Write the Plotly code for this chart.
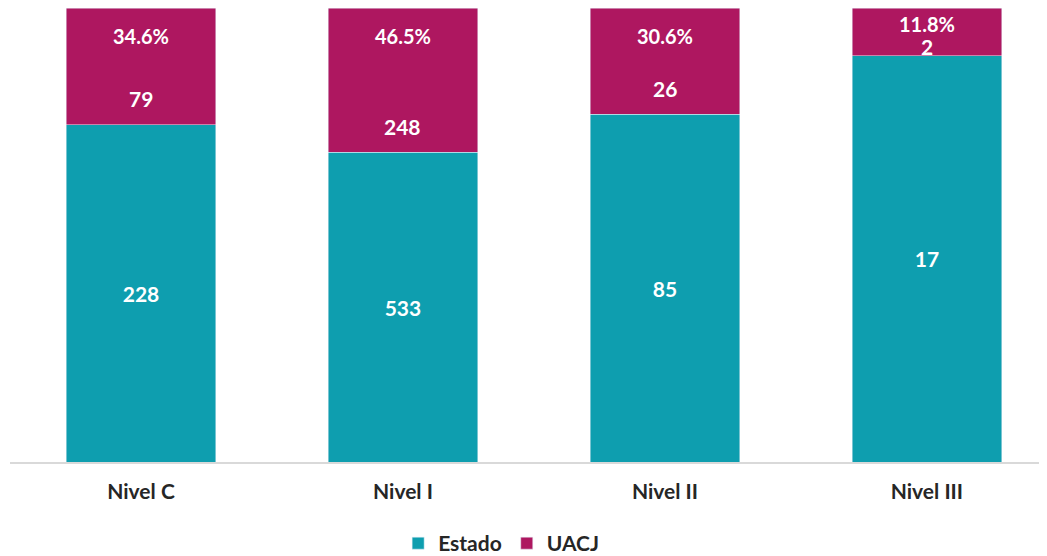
import plotly.graph_objects as go

categories = ["Nivel C", "Nivel I", "Nivel II", "Nivel III"]
estado = [228, 533, 85, 17]
uacj = [79, 248, 26, 2]
pct_labels = ["34.6%", "46.5%", "30.6%", "11.8%"]

TEAL = "#0E9EAF"
MAGENTA = "#AE1760"
FONT = "Lato, 'Open Sans', sans-serif"
DARK = "#262626"

fig = go.Figure()
fig.add_trace(go.Bar(
    x=categories, y=estado, name="Estado", marker_color=TEAL,
    text=[str(v) for v in estado], textposition="inside", insidetextanchor="middle",
    textfont=dict(color="white", size=21, family=FONT, weight=700), hoverinfo="skip",
))
fig.add_trace(go.Bar(
    x=categories, y=uacj, name="UACJ", marker_color=MAGENTA,
    hoverinfo="skip",
))

for c, e, u, p in zip(categories, estado, uacj, pct_labels):
    est_pct = e / (e + u) * 100
    top_share = 100 - est_pct
    cy = est_pct + (5.7 if top_share > 15 else top_share * 0.2)
    py = max(93.8, cy + 5.0)
    fig.add_annotation(x=c, y=cy, text=str(u), showarrow=False,
                       font=dict(color="white", size=21, family=FONT, weight=700))
    fig.add_annotation(x=c, y=py, text=p, showarrow=False,
                       font=dict(color="white", size=20, family=FONT, weight=700))

fig.update_layout(
    barmode="stack", barnorm="percent", bargap=0.43,
    width=1047, height=556,
    margin=dict(l=2, r=0, t=0, b=101),
    paper_bgcolor="white", plot_bgcolor="white",
    font=dict(family=FONT, color=DARK),
    showlegend=True,
    legend=dict(orientation="h", x=0.47, xanchor="center", y=-0.18, yanchor="middle",
                font=dict(size=21, color=DARK, weight=700), itemwidth=30,
                traceorder="normal"),
    xaxis=dict(range=[-0.5, 3.489], showline=True, linecolor="#D9D9D9", linewidth=1.5,
               ticks="", ticklabelstandoff=10,
               tickfont=dict(size=21, color=DARK, weight=700), showgrid=False),
    yaxis=dict(range=[0, 100], visible=False, showgrid=False),
)

fig.write_html("out.html")
